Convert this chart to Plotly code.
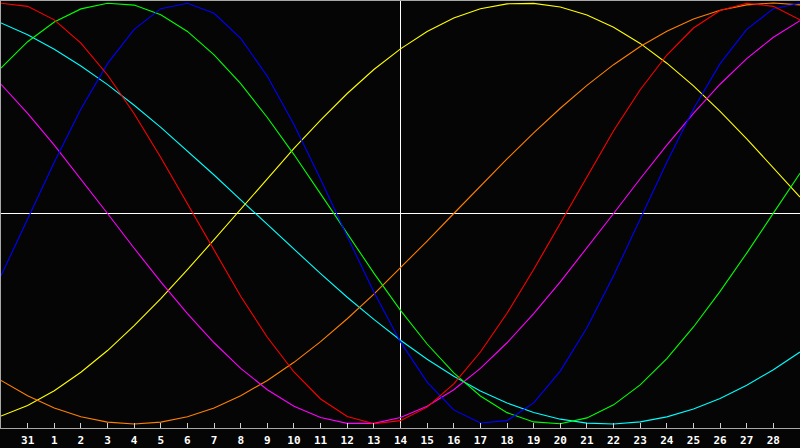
import plotly.graph_objects as go

# day positions across the window (index 0 = the 30th of the previous month)
day_index = list(range(31))
day_labels = ["31"] + [str(d) for d in range(1, 29)]
label_index = list(range(1, 30))

# cycle values (-1 = bottom, +1 = top)
red = [0.999, 0.984, 0.920, 0.809, 0.658, 0.474, 0.266, 0.045, -0.179, -0.393,
       -0.588, -0.753, -0.881, -0.964, -0.999, -0.984, -0.920, -0.809, -0.658, -0.474,
       -0.266, -0.045, 0.179, 0.393, 0.588, 0.753, 0.881, 0.964, 0.999, 0.984, 0.920]
green = [0.691, 0.816, 0.910, 0.972, 0.999, 0.990, 0.944, 0.865, 0.754, 0.617,
         0.456, 0.280, 0.093, -0.097, -0.283, -0.460, -0.620, -0.757, -0.867, -0.946,
         -0.990, -0.999, -0.971, -0.909, -0.814, -0.689, -0.539, -0.370, -0.188, 0.002, 0.191]
blue = [-0.296, -0.027, 0.243, 0.496, 0.712, 0.875, 0.973, 0.999, 0.951, 0.832,
        0.652, 0.423, 0.163, -0.109, -0.373, -0.610, -0.801, -0.933, -0.995, -0.984,
        -0.900, -0.749, -0.543, -0.296, -0.027, 0.243, 0.496, 0.712, 0.875, 0.973, 0.999]
magenta = [0.614, 0.476, 0.325, 0.165, 0.000, -0.165, -0.325, -0.476, -0.614, -0.736,
           -0.837, -0.916, -0.969, -0.997, -0.997, -0.969, -0.916, -0.837, -0.736, -0.614,
           -0.476, -0.325, -0.165, 0.000, 0.165, 0.325, 0.476, 0.614, 0.736, 0.837, 0.916]
yellow = [-0.962, -0.912, -0.842, -0.754, -0.651, -0.533, -0.404, -0.267, -0.124, 0.022,
          0.167, 0.309, 0.444, 0.570, 0.684, 0.782, 0.865, 0.929, 0.973, 0.996,
          0.998, 0.981, 0.943, 0.885, 0.808, 0.714, 0.606, 0.485, 0.355, 0.218, 0.078]
orange = [-0.793, -0.866, -0.924, -0.966, -0.991, -1.000, -0.991, -0.966, -0.924, -0.866,
          -0.793, -0.707, -0.609, -0.500, -0.383, -0.259, -0.131, 0.000, 0.131, 0.259,
          0.383, 0.500, 0.609, 0.707, 0.793, 0.866, 0.924, 0.966, 0.991, 1.000, 0.991]
cyan = [0.905, 0.849, 0.780, 0.701, 0.612, 0.514, 0.409, 0.298, 0.183, 0.065,
        -0.053, -0.171, -0.286, -0.398, -0.503, -0.602, -0.692, -0.773, -0.843, -0.900,
        -0.945, -0.977, -0.996, -1.000, -0.990, -0.966, -0.929, -0.879, -0.816, -0.742, -0.658]

series = [
    (cyan, "#00ffff"),
    (yellow, "#ffff00"),
    (orange, "#ff8000"),
    (magenta, "#ff00ff"),
    (green, "#00ff00"),
    (blue, "#0000ff"),
    (red, "#ff0000"),
]

fig = go.Figure()
for values, color in series:
    fig.add_trace(go.Scatter(x=day_index, y=values, mode="lines",
                             line=dict(color=color, width=1.1), hoverinfo="skip"))

# today marker and zero line
fig.add_shape(type="line", xref="x", yref="paper", x0=15, x1=15, y0=0, y1=1,
              line=dict(color="white", width=1), layer="below")
fig.add_shape(type="line", xref="paper", yref="y", x0=0, x1=1, y0=0, y1=0,
              line=dict(color="white", width=1), layer="below")

fig.update_layout(
    width=800, height=448,
    margin=dict(l=1, r=0, t=1, b=20),
    paper_bgcolor="#050505", plot_bgcolor="#050505",
    showlegend=False,
)
fig.update_xaxes(
    range=[0, 30], showgrid=False, zeroline=False,
    showline=True, linecolor="#a8a8a8", linewidth=1, mirror=True,
    ticks="inside", ticklen=5, tickcolor="#d0d0d0", tickwidth=1,
    tickvals=label_index, ticktext=day_labels,
    tickfont=dict(family="DejaVu Sans Mono", size=11, color="white", weight="bold"),
    ticklabelstandoff=2,
)
fig.update_yaxes(
    range=[-1.019, 1.0095], showgrid=False, zeroline=False,
    showline=True, linecolor="#a8a8a8", linewidth=1,
    showticklabels=False, ticks="",
)

fig.write_html("out.html", config={"displayModeBar": False},
               post_script="document.body.style.margin='0';document.body.style.background='#050505';")
